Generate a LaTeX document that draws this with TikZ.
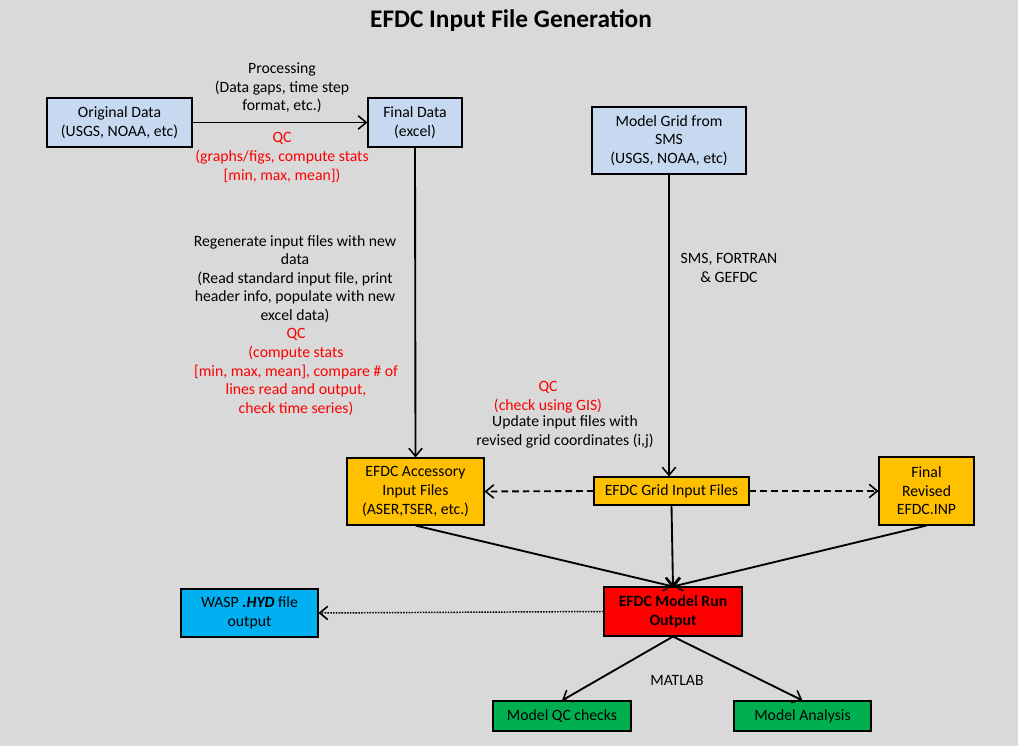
\documentclass[tikz,border=0pt]{standalone}
\usepackage{fontspec}
\setmainfont{Carlito}
\usetikzlibrary{arrows.meta}
\definecolor{bg}{HTML}{D9D9D9}
\definecolor{lblue}{HTML}{C6D9F1}
\definecolor{orng}{HTML}{FFC000}
\definecolor{cyanb}{HTML}{00B0F0}
\definecolor{grn}{HTML}{00B050}
\definecolor{qcred}{HTML}{FF0000}
\tikzset{
  box/.style={draw=black, line width=0.8pt, inner sep=1pt, align=center, font=\fontsize{11.8}{13.9}\selectfont},
  lbl/.style={inner sep=0pt, align=center, font=\fontsize{11.8}{13.9}\selectfont},
  conn/.style={line width=1.4pt, -{Straight Barb[length=6pt,width=10pt,line width=1.2pt]}},
  dconn/.style={conn, dash pattern=on 5pt off 3pt},
  dotconn/.style={conn, line width=1.1pt, dash pattern=on 1.2pt off 0.9pt}
}
\begin{document}
\begin{tikzpicture}[x=0.75pt,y=-0.75pt]
\fill[bg] (0,0) rectangle (1018,746);
\useasboundingbox (0,0) rectangle (1018,746);

\node[lbl, font=\fontsize{19}{22}\selectfont\bfseries] (title) at (511,21) {EFDC Input File Generation};

\node[box, fill=lblue, minimum width=108.75pt, minimum height=36.75pt] (orig) at (119.5,122.5) {Original Data\\(USGS, NOAA, etc)};
\node[box, fill=lblue, minimum width=70.5pt, minimum height=36.75pt] (final) at (415,122.5) {Final Data\\(excel)};
\node[box, fill=lblue, minimum width=115.5pt, minimum height=50.25pt] (grid) at (669,140.5) {Model Grid from\\SMS\\(USGS, NOAA, etc)};
\node[box, fill=orng, minimum width=102.75pt, minimum height=50.25pt] (acc) at (415.5,491.5) {EFDC Accessory\\Input Files\\(ASER,TSER, etc.)};
\node[box, fill=orng, minimum width=116.25pt, minimum height=21pt] (gin) at (671.5,491) {EFDC Grid Input Files};
\node[box, fill=orng, minimum width=71.25pt, minimum height=51pt] (frev) at (926.5,491) {Final\\Revised\\EFDC.INP};
\node[box, fill=red, minimum width=103.5pt, minimum height=36.75pt, font=\fontsize{11.8}{13.9}\selectfont\bfseries] (run) at (673,611.5) {EFDC Model Run\\Output};
\node[box, fill=cyanb, minimum width=102.75pt, minimum height=36pt] (wasp) at (249.5,613) {WASP \textbf{\textit{.HYD}} file\\output};
\node[box, fill=grn, minimum width=103.5pt, minimum height=22.5pt] (mqc) at (562,716) {Model QC checks};
\node[box, fill=grn, minimum width=102.75pt, minimum height=22.5pt] (man) at (802.5,716) {Model Analysis};

\node[lbl] (proc) at (282,88) {Processing\\(Data gaps, time step\\format, etc.)};
\node[lbl, text=qcred] (qc1) at (282,157.5) {QC\\(graphs/figs, compute stats\\{[min, max, mean])}};
\node[lbl] (regen) at (295,279) {Regenerate input files with new\\data\\(Read standard input file, print\\header info, populate with new\\excel data)};
\node[lbl, text=qcred] (qc2) at (296,372) {QC\\(compute stats\\{[min, max, mean], compare \# of}\\lines read and output,\\check time series)};
\node[lbl] (sms) at (729,268) {SMS, FORTRAN\\\& GEFDC};
\node[lbl, text=qcred] (qc3) at (548,397) {QC\\(check using GIS)};
\node[lbl] (upd) at (565,432) {Update input files with\\revised grid coordinates (i,j)};
\node[lbl] (matlab) at (677,680) {MATLAB};

\draw[conn] (orig.east) -- (final.west);
\draw[conn] (final.south) -- (acc.north);
\draw[conn] (grid.south) -- (gin.north -| grid.south);
\draw[dconn] (gin.west) -- (acc.east);
\draw[dconn] (gin.east) -- (frev.west);
\coordinate (runtop) at (run.north);
\draw[conn] (acc.south) -- (runtop);
\draw[conn] (gin.south) -- (runtop);
\draw[conn] (frev.south) -- (runtop);
\draw[dotconn] (run.west) -- (wasp.east);
\draw[conn] (run.south) -- (mqc.north);
\draw[conn] (run.south) -- (man.north);
\end{tikzpicture}
\end{document}
